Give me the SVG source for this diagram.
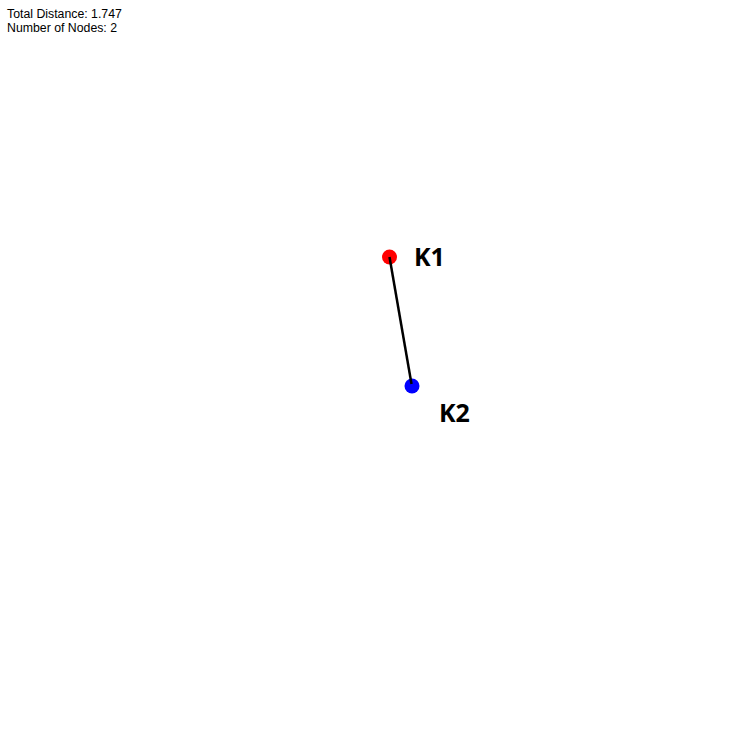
<svg xmlns="http://www.w3.org/2000/svg" width="745" height="745" viewBox="0 0 745 745">
<style>
.info{font-family:"Liberation Sans",Arial,sans-serif;font-size:12.3px;fill:#000}
.lbl{font-family:"Open Sans","DejaVu Sans",sans-serif;font-size:25px;font-weight:bold;fill:#000}
.edge{stroke:#000;stroke-width:2.5;fill:none}
</style>
<rect width="745" height="745" fill="#fff"/>
<text class="info" x="7" y="18">Total Distance: 1.747</text>
<text class="info" x="7" y="32">Number of Nodes: 2</text>
<g id="node-k1">
<circle cx="389.5" cy="257" r="7.5" fill="#ff0000"/>
<text class="lbl" x="414" y="266">K1</text>
</g>
<g id="node-k2">
<circle cx="412" cy="386" r="7.5" fill="#0000ff"/>
<text class="lbl" x="439" y="422">K2</text>
</g>
<g id="connectors">
<line class="edge" x1="389.5" y1="257" x2="411.5" y2="384"/>
</g>
</svg>
